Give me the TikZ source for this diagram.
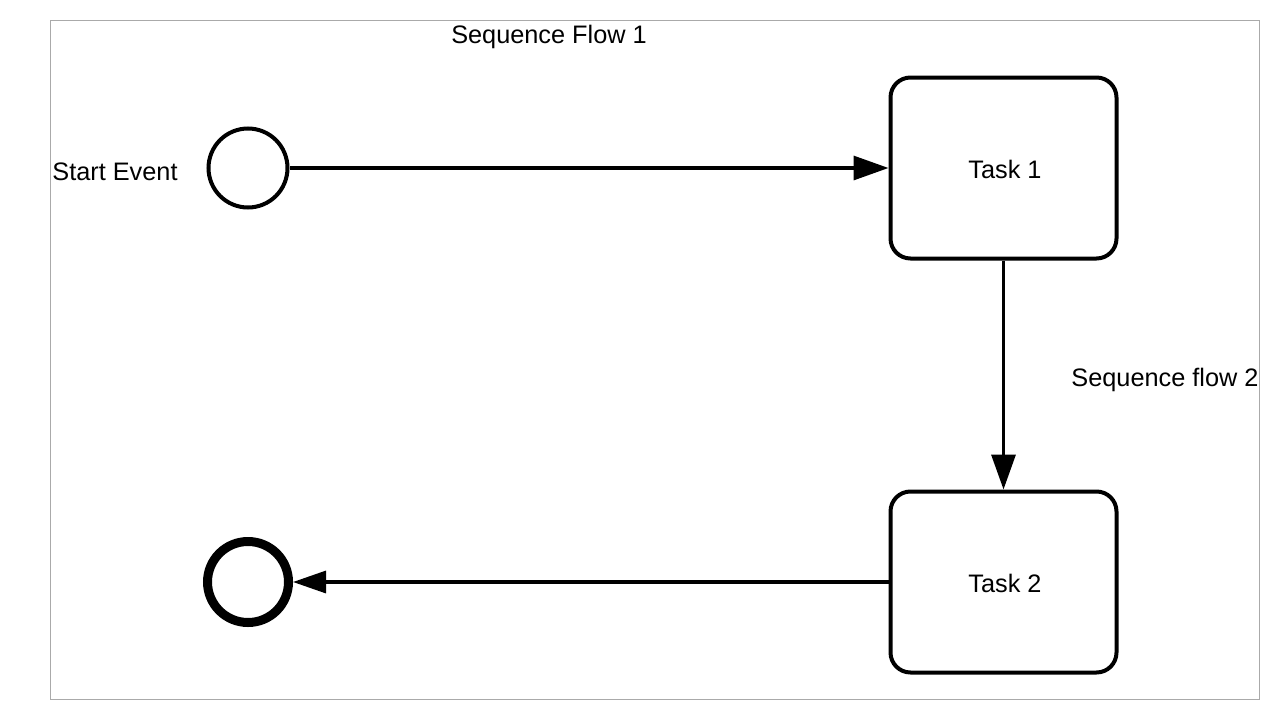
\documentclass[tikz,border=0pt]{standalone}
\usepackage{fontspec}
\setmainfont{Liberation Sans}
\usetikzlibrary{arrows.meta}
\begin{document}
\begin{tikzpicture}[x=1pt,y=-1pt,
  lbl/.style={font=\fontsize{25.3}{29}\selectfont, inner sep=0pt},
  task/.style={draw, line width=4pt, rounded corners=20pt, minimum width=226pt, minimum height=181pt, inner sep=0pt, font=\fontsize{25.3}{29}\selectfont},
  startev/.style={draw, circle, line width=4pt, minimum size=79pt, inner sep=0pt},
  endev/.style={draw, circle, line width=9pt, minimum size=81pt, inner sep=0pt},
  flow/.style={line width=3.3pt, -{Triangle[length=35pt,width=24pt]}}
]
\useasboundingbox (0,0) rectangle (1280,720);
\draw[draw={rgb,255:red,170;green,170;blue,170}, line width=1pt] (50.5,20.5) rectangle (1259.5,699.5);
\node[startev] (start) at (248,168) {};
\node[task] (t1) at (1003.5,168) {};
\node[task] (t2) at (1003.5,582) {};
\node[lbl] (t1l) at (1005,169) {Task 1};
\node[lbl] (t2l) at (1005,583) {Task 2};
\node[endev] (end) at (248,582) {};
\node[lbl] (l1) at (549,36.5) {Sequence Flow 1};
\node[lbl] (l2) at (115,171.5) {Start Event};
\node[lbl] (l3) at (1165,379.5) {Sequence flow 2};
\draw[flow] (start) -- (t1);
\draw[flow] (t1) -- (t2);
\draw[line width=3.3pt, -{Triangle[length=33pt,width=22pt]}] (t2) -- (end);
\end{tikzpicture}
\end{document}
